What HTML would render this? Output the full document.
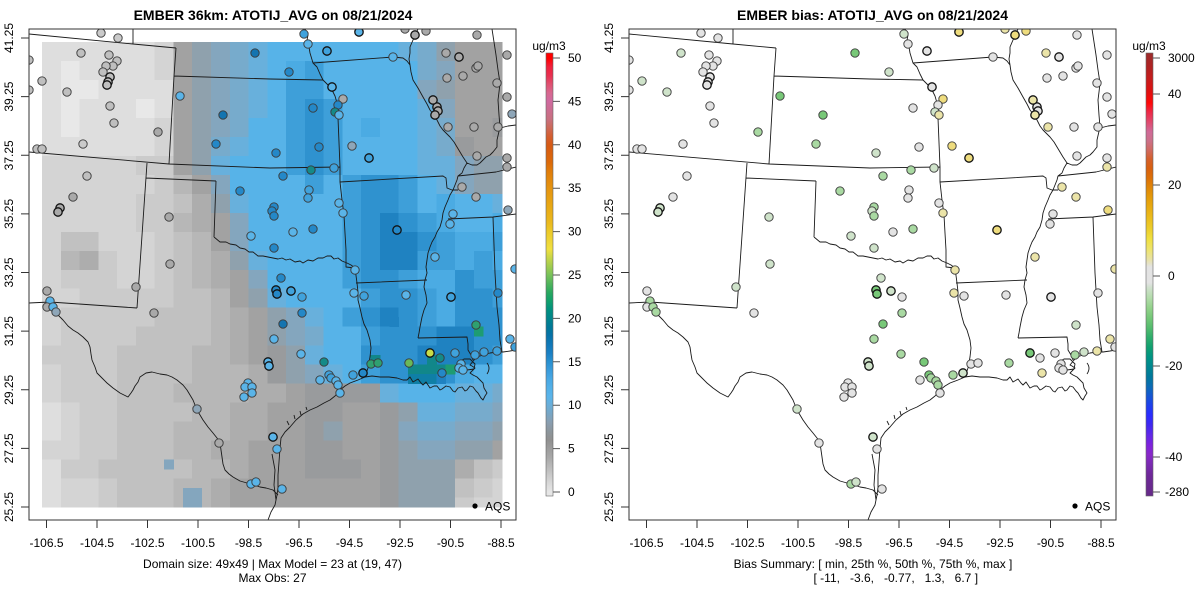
<!DOCTYPE html>
<html><head><meta charset="utf-8">
<style>
html,body{margin:0;padding:0;background:#fff;}
svg{display:block;}
text{font-family:"Liberation Sans",Arial,sans-serif;font-size:12px;fill:#000;}
.t{font-weight:bold;font-size:14px;}
</style></head><body>
<svg id="s" width="1200" height="600" viewBox="0 0 1200 600" xmlns="http://www.w3.org/2000/svg">
<defs>
<clipPath id="cp"><rect x="29" y="29" width="487" height="491"/></clipPath>
<linearGradient id="gl" x1="0" y1="0" x2="0" y2="1">
<stop offset="0" stop-color="#ff0000"/><stop offset="0.012" stop-color="#ff0000"/><stop offset="0.031" stop-color="#f0203c"/><stop offset="0.051" stop-color="#e83050"/><stop offset="0.07" stop-color="#e05070"/><stop offset="0.09" stop-color="#d86890"/><stop offset="0.109" stop-color="#d06aa0"/><stop offset="0.149" stop-color="#c87080"/><stop offset="0.168" stop-color="#cc6a5a"/><stop offset="0.188" stop-color="#d45e30"/><stop offset="0.208" stop-color="#d65a14"/><stop offset="0.247" stop-color="#dc6a0a"/><stop offset="0.266" stop-color="#e07c0a"/><stop offset="0.305" stop-color="#e59410"/><stop offset="0.345" stop-color="#e8a814"/><stop offset="0.384" stop-color="#ebba1e"/><stop offset="0.403" stop-color="#ecca28"/><stop offset="0.423" stop-color="#eed436"/><stop offset="0.443" stop-color="#f0e040"/><stop offset="0.462" stop-color="#c8d648"/><stop offset="0.482" stop-color="#a0cc50"/><stop offset="0.501" stop-color="#78c25a"/><stop offset="0.521" stop-color="#50b45c"/><stop offset="0.541" stop-color="#28a860"/><stop offset="0.56" stop-color="#10a06c"/><stop offset="0.58" stop-color="#009080"/><stop offset="0.6" stop-color="#00848c"/><stop offset="0.619" stop-color="#007898"/><stop offset="0.638" stop-color="#0672a8"/><stop offset="0.658" stop-color="#1078b8"/><stop offset="0.678" stop-color="#1a80c4"/><stop offset="0.697" stop-color="#2890d0"/><stop offset="0.717" stop-color="#3a9cdc"/><stop offset="0.736" stop-color="#48a8e4"/><stop offset="0.756" stop-color="#52b0e8"/><stop offset="0.776" stop-color="#5ab4ea"/><stop offset="0.795" stop-color="#6aaed8"/><stop offset="0.815" stop-color="#78a6c4"/><stop offset="0.834" stop-color="#8a9eb0"/><stop offset="0.854" stop-color="#8c969c"/><stop offset="0.873" stop-color="#909090"/><stop offset="0.893" stop-color="#9c9c9c"/><stop offset="0.913" stop-color="#a8a8a8"/><stop offset="0.932" stop-color="#b8b8b8"/><stop offset="0.952" stop-color="#c8c8c8"/><stop offset="0.971" stop-color="#d8d8d8"/><stop offset="0.991" stop-color="#e6e6e6"/><stop offset="1" stop-color="#e6e6e6"/>
</linearGradient>
<linearGradient id="gr" x1="0" y1="0" x2="0" y2="1">
<stop offset="0" stop-color="#9b2c2c"/><stop offset="0.032" stop-color="#b02222"/><stop offset="0.061" stop-color="#c81c1c"/><stop offset="0.088" stop-color="#e01010"/><stop offset="0.113" stop-color="#ff0808"/><stop offset="0.133" stop-color="#ee2846"/><stop offset="0.156" stop-color="#e04a6e"/><stop offset="0.178" stop-color="#d06a98"/><stop offset="0.199" stop-color="#cc7088"/><stop offset="0.219" stop-color="#d06a60"/><stop offset="0.239" stop-color="#d4602c"/><stop offset="0.26" stop-color="#d86010"/><stop offset="0.282" stop-color="#dc7008"/><stop offset="0.305" stop-color="#e08808"/><stop offset="0.327" stop-color="#e49c0a"/><stop offset="0.35" stop-color="#e8ac12"/><stop offset="0.372" stop-color="#ebbc1c"/><stop offset="0.395" stop-color="#eccc2a"/><stop offset="0.42" stop-color="#f0e040"/><stop offset="0.445" stop-color="#eee470"/><stop offset="0.467" stop-color="#e8e2a8"/><stop offset="0.483" stop-color="#e3e3e3"/><stop offset="0.519" stop-color="#e3e3e3"/><stop offset="0.53" stop-color="#cfe0cc"/><stop offset="0.553" stop-color="#b2dcaa"/><stop offset="0.576" stop-color="#92d28a"/><stop offset="0.598" stop-color="#74c878"/><stop offset="0.619" stop-color="#56bc6e"/><stop offset="0.641" stop-color="#30ae6c"/><stop offset="0.664" stop-color="#10a070"/><stop offset="0.686" stop-color="#009484"/><stop offset="0.709" stop-color="#008690"/><stop offset="0.731" stop-color="#00789c"/><stop offset="0.752" stop-color="#0a6cb4"/><stop offset="0.772" stop-color="#1458d0"/><stop offset="0.795" stop-color="#1e40ec"/><stop offset="0.817" stop-color="#2a2cff"/><stop offset="0.84" stop-color="#4028f0"/><stop offset="0.862" stop-color="#6028e8"/><stop offset="0.885" stop-color="#7e22dc"/><stop offset="0.907" stop-color="#8828c8"/><stop offset="0.93" stop-color="#7a2ab0"/><stop offset="0.953" stop-color="#6e2898"/><stop offset="1" stop-color="#662a88"/>
</linearGradient>
<path id="ml" fill="none" stroke="#1a1a1a" stroke-width="0.9" stroke-linejoin="round" d="M29,34L133,44L176,48 M133,29L133,44 M176,48L174,76L169,164 M174,76L270,79L323,80 M29,152L169,164L270,168L340,167 M147,163L137,308 M146,178L216,181 M216,181L214,237 M214,237L220,242L226,242L230,244L236,245L240,248L245,249L249,252L253,252L258,256L263,256L268,257L273,258L278,259L282,258L286,260L290,259L295,262L300,261L303,263L308,260L313,261L318,258L323,258L327,256L331,256L334,259L338,258L342,261L347,263L351,265L355,268 M29,303L50,302L137,308 M47,305L53,310L58,315L63,320L68,326L73,330L78,333L83,337L88,342L90,347L91,354L92,360L95,367L97,373L102,378L107,383L113,388L120,393L124,395L128,397L131,393L133,390L135,386L138,382L140,377L146,373L152,372L160,374L167,375L172,377L177,380L183,385L187,390L190,395L193,400L195,405L197,410L200,415L203,420L208,427L213,433L217,438L220,443L221,450L222,457L223,464L225,470L229,474L233,477L240,481L247,483L254,485L260,487L266,488L273,490L278,495 M268,520L271,512L275,505L277,495L278,487L278,475L279,462L280,448L281,438L285,432L290,427L296,420L303,414L310,410L317,407L324,403L330,400L335,396L340,390L345,386L350,383L358,380L365,377L372,376L380,377L389,377L397,378L403,380L407,380L410,377L413,382L418,379L421,383L423,385L426,382L430,388L434,386L437,386L440,390L442,389L446,386L450,387L453,391L455,392L458,388L462,387L465,391L467,390L470,386L473,387L476,391L478,393L481,398L483,400L485,396L487,393L484,388L483,383L480,380L477,377L473,375L470,373L473,370L475,368L472,366L470,365L474,360L477,357L483,355L490,353L497,352L503,352L510,351L516,350 M272,454L275,470L274,485L276,500 M289,425L287,421 M295,419L294,415 M301,415L300,411 M307,410L306,407 M305,29L308,35L307,40L309,47L310,53L313,63L317,67L320,74L323,80L328,85L332,90L335,96L337,103L338,110L338,118L340,167L340,182L342,200L344,215L345,233L346,250L346,267L355,268 M313,63L393,57L403,58L407,61L410,65 M340,182L443,176L446,178L447,188L452,190L458,190 M418,29L415,35L413,40L410,47L410,53L409,59L410,65L411,72L413,80L418,88L423,97L427,104L430,110L434,115L437,120L440,126L443,130L450,137L454,142L457,147L460,152L463,157L467,163L464,168L462,173L458,176L457,180L455,185L453,190L450,195L448,200L445,207L443,213L442,220L440,227L437,232L435,237L432,242L430,247L428,253L427,260L426,267L427,273L425,280L424,287L426,295L427,303L424,310L422,317L421,322L420,327L419,333L418,338 M356,283L427,280 M355,268L357,283L358,292L358,300L360,308L362,317L364,324L367,330L370,340L371,348L370,357L368,368L365,377 M418,338L467,337L468,344L468,350L471,355L473,360 M448,219L493,217L516,214 M493,217L494,245L495,273L496,290L497,307L499,325L500,340L502,352 M458,176L496,172L516,167 M492,29L494,42L496,55L498,70L500,83L499,92L498,100L499,115L500,127L497,140L497,147L493,152L490,155L486,157L483,160L480,163L477,165L472,165L467,163 M500,128L508,126L516,125 M457,363L464,359L470,359L475,364L474,369L467,370L460,369L457,365 M487,363Q491,368 487,374"/>
</defs>
<rect width="1200" height="600" fill="#fff"/>

<!-- LEFT PANEL -->
<g clip-path="url(#cp)">
  <g id="rast" shape-rendering="crispEdges"></g>
  <use href="#ml"/>
  <g id="stL"></g>
</g>
<rect x="29" y="29" width="487" height="491" fill="none" stroke="#333" stroke-width="1"/>
<circle cx="475" cy="506" r="2.6" fill="#000"/>
<text x="485" y="510.5">AQS</text>
<text class="t" x="273" y="20" text-anchor="middle">EMBER 36km: ATOTIJ_AVG on 08/21/2024</text>
<path d="M21,38H29M21,96.6H29M21,155.3H29M21,213.9H29M21,272.5H29M21,331.1H29M21,389.8H29M21,448.4H29M21,507H29 M46.5,520V528M97,520V528M147.5,520V528M198,520V528M248.5,520V528M299,520V528M349.5,520V528M400,520V528M450.5,520V528M501,520V528" stroke="#333" stroke-width="1" fill="none"/>
<g text-anchor="middle">
<text transform="translate(13,38) rotate(-90)">41.25</text>
<text transform="translate(13,96.6) rotate(-90)">39.25</text>
<text transform="translate(13,155.3) rotate(-90)">37.25</text>
<text transform="translate(13,213.9) rotate(-90)">35.25</text>
<text transform="translate(13,272.5) rotate(-90)">33.25</text>
<text transform="translate(13,331.1) rotate(-90)">31.25</text>
<text transform="translate(13,389.8) rotate(-90)">29.25</text>
<text transform="translate(13,448.4) rotate(-90)">27.25</text>
<text transform="translate(13,507) rotate(-90)">25.25</text>
<text x="46.5" y="547">-106.5</text>
<text x="97" y="547">-104.5</text>
<text x="147.5" y="547">-102.5</text>
<text x="198" y="547">-100.5</text>
<text x="248.5" y="547">-98.5</text>
<text x="299" y="547">-96.5</text>
<text x="349.5" y="547">-94.5</text>
<text x="400" y="547">-92.5</text>
<text x="450.5" y="547">-90.5</text>
<text x="501" y="547">-88.5</text>
<text x="272.5" y="568">Domain size: 49x49 | Max Model = 23 at (19, 47)</text>
<text x="272.5" y="582">Max Obs: 27</text>
<text x="549" y="50">ug/m3</text>
</g>
<rect x="546" y="53" width="7" height="443" fill="url(#gl)" stroke="#666" stroke-width="0.6"/>
<path d="M553,58H560M553,101.4H560M553,144.8H560M553,188.2H560M553,231.6H560M553,275H560M553,318.4H560M553,361.8H560M553,405.2H560M553,448.6H560M553,492H560" stroke="#555" stroke-width="1"/>
<text x="568" y="62">50</text>
<text x="568" y="105.4">45</text>
<text x="568" y="148.8">40</text>
<text x="568" y="192.2">35</text>
<text x="568" y="235.6">30</text>
<text x="568" y="279">25</text>
<text x="568" y="322.4">20</text>
<text x="568" y="365.8">15</text>
<text x="568" y="409.2">10</text>
<text x="568" y="452.6">5</text>
<text x="568" y="496">0</text>

<!-- RIGHT PANEL -->
<g transform="translate(600,0)">
  <g clip-path="url(#cp)">
    <use href="#ml"/>
    <g id="stR"></g>
  </g>
  <rect x="29" y="29" width="487" height="491" fill="none" stroke="#333" stroke-width="1"/>
  <circle cx="475" cy="506" r="2.6" fill="#000"/>
  <text x="485" y="510.5">AQS</text>
  <path d="M21,38H29M21,96.6H29M21,155.3H29M21,213.9H29M21,272.5H29M21,331.1H29M21,389.8H29M21,448.4H29M21,507H29 M46.5,520V528M97,520V528M147.5,520V528M198,520V528M248.5,520V528M299,520V528M349.5,520V528M400,520V528M450.5,520V528M501,520V528" stroke="#333" stroke-width="1" fill="none"/>
</g>
<text class="t" x="872.5" y="20" text-anchor="middle">EMBER bias: ATOTIJ_AVG on 08/21/2024</text>
<g text-anchor="middle">
<text transform="translate(613,38) rotate(-90)">41.25</text>
<text transform="translate(613,96.6) rotate(-90)">39.25</text>
<text transform="translate(613,155.3) rotate(-90)">37.25</text>
<text transform="translate(613,213.9) rotate(-90)">35.25</text>
<text transform="translate(613,272.5) rotate(-90)">33.25</text>
<text transform="translate(613,331.1) rotate(-90)">31.25</text>
<text transform="translate(613,389.8) rotate(-90)">29.25</text>
<text transform="translate(613,448.4) rotate(-90)">27.25</text>
<text transform="translate(613,507) rotate(-90)">25.25</text>
<text x="646.5" y="547">-106.5</text>
<text x="697" y="547">-104.5</text>
<text x="747.5" y="547">-102.5</text>
<text x="798" y="547">-100.5</text>
<text x="848.5" y="547">-98.5</text>
<text x="899" y="547">-96.5</text>
<text x="949.5" y="547">-94.5</text>
<text x="1000" y="547">-92.5</text>
<text x="1050.5" y="547">-90.5</text>
<text x="1101" y="547">-88.5</text>
<text x="873" y="568">Bias Summary: [ min, 25th %, 50th %, 75th %, max ]</text>
<text x="1149" y="50">ug/m3</text>
</g>
<text x="813.5" y="582" style="white-space:pre">[ -11,   -3.6,   -0.77,   1.3,   6.7 ]</text>
<rect x="1146" y="53" width="7" height="443" fill="url(#gr)" stroke="#666" stroke-width="0.6"/>
<path d="M1153,58H1160M1153,94H1160M1153,185H1160M1153,276H1160M1153,366H1160M1153,457H1160M1153,492H1160" stroke="#555" stroke-width="1"/>
<text x="1168" y="62">3000</text>
<text x="1168" y="98">40</text>
<text x="1168" y="189">20</text>
<text x="1168" y="280">0</text>
<text x="1165" y="370">-20</text>
<text x="1165" y="461">-40</text>
<text x="1165" y="496">-280</text>
</svg>
<script>
(function(){
var NS='http://www.w3.org/2000/svg';
function el(t,a,p){var e=document.createElementNS(NS,t);for(var k in a)e.setAttribute(k,a[k]);p.appendChild(e);return e;}
var pal={a:'#e8e8e8',b:'#dedede',c:'#d4d4d4',d:'#cbcbcb',e:'#c1c1c1',f:'#b7b7b7',g:'#adadad',h:'#a2a2a2',i:'#999b9d',j:'#8fa1ad',k:'#84a6be',l:'#77abcc',m:'#68b0dc',n:'#57b3e8',o:'#4babe3',p:'#3e9fd9',q:'#2f92cf',r:'#1f82c1',s:'#11878a',t:'#1e9c72',u:'#0f7fa6'};
var rows=[
"bbbbbbchjklmnnnnnnnmljhhh",
"babbbbchjklmnopnnnnnlkhhh",
"baabbbbhjklmnppnnnnnkjhhh",
"babbbabhjklmnpqpnnnnmkhhh",
"babbbbchjklnnpqpnonnmlhhi",
"bbbbbbchjlmnnpqpnnnnmlihh",
"cccccddhjmnnnpqpnnnnmmkjj",
"ccccccdfhknnnnpnpqqpnmkjj",
"cccccddegjmnnnnnpqqpnonnm",
"cccccddfghknnnnnpqrqponno",
"ceecccdefhknnnnnpqrrqpoop",
"cfgdccdefgjmnnnnpqrrppopo",
"cdddccdefghknnnnpqqpooqpp",
"ccdddddeefhjmnnnnpqqpoqqp",
"cdddddeeefghjkmnpqrqpoqqq",
"cddddeeeefghjklnnpqqqrrqq",
"ddddeeeeffghijmnnqqqrrrqp",
"cdddeeeefffgijkmnpqqrqonn",
"cdddeeeffffgghiiiimnnnmml",
"bcddeeeeffgghhiihhijmmllk",
"bcddeeefffgghhijhhikllkkj",
"ccddeeeffgghhhiihhijkkjjh",
"bddeeeeeffghhhiiihijjjged",
"bccdeeeffghhhhhhhhijjjedc",
"bccdeeeffghhhhhhhhijjjdcc"];
var cw=460/49,ch=465/49,rg=document.getElementById('rast');
for(var R=0;R<25;R++){for(var C=0;C<25;C++){
 var x=42+C*2*cw,y=42+R*2*ch,w=(C==24?cw:2*cw),h=(R==24?ch:2*ch);
 el('rect',{x:x.toFixed(2),y:y.toFixed(2),width:(w+0.5).toFixed(2),height:(h+0.5).toFixed(2),fill:pal[rows[R].charAt(C)]||'#ccc'},rg);
}}
var ov=[[15,47,'k'],[16,47,'k'],[15,48,'k'],[16,48,'k'],[13,44,'k'],
[46,30,'t'],[41,33,'s'],[39,34,'s'],[40,34,'s'],[41,34,'s'],[42,34,'s'],[43,34,'t'],[35,33,'s'],
[39,35,'u'],[40,35,'u'],[41,35,'u'],[42,35,'r'],[37,29,'r'],[38,20,'r'],[36,21,'r']];
for(var i=0;i<ov.length;i++){var o=ov[i];el('rect',{x:(42+o[0]*cw).toFixed(2),y:(42+o[1]*ch).toFixed(2),width:(cw+0.5).toFixed(2),height:(ch+0.5).toFixed(2),fill:pal[o[2]]},rg);}
var LC={W1:'#cacaca',W2:'#bfbfbf',W3:'#a9a9a9',GB:'#8ea6b8',B1:'#5ab4e8',B2:'#40a2dc',B3:'#2488c8',B4:'#1474b0',T:'#148a88',GR:'#2fa070',G6:'#6ab858',YG:'#c8dc48'};
var RC={G:'#e3e3e3',L:'#cfe3ca',M:'#a9d9a2',N:'#78c878',Y:'#ebe4a8',YY:'#eedc7e'};
var st=[[101,33,'W1','G'],[118,38,'W1','G'],[81,53,'W2','L'],[109,55,'W2','G'],[117,61,'W2','G'],[113,66,'W2','G'],[106,66,'W2','G'],[103,72,'W2','G'],[110,77,'W2','G',1],[108,82,'W2','G',1],[107,85,'W2','G',1],[42,81,'W2','L'],[29,60,'W2','G'],[29,90,'W2','G'],[67,92,'W2','L'],[110,106,'W2','G'],[114,123,'W2','G'],[158,132,'W3','M'],[83,144,'W1','G'],[37,149,'W2','G'],[42,149,'W2','G'],[87,176,'W2','G'],[73,197,'W3','G'],[60,208,'W3','L',1],[58,212,'W3','L',1],[169,217,'W3','L'],[170,264,'W3','L'],[136,287,'W3','L'],[47,291,'W3','G'],[50,301,'B1','M'],[47,307,'W3','G'],[53,307,'B1','M'],[56,312,'GB','M'],[154,313,'W3','G'],
[180,96,'B1','N'],[223,115,'B4','N'],[216,144,'B3','M'],[255,53,'B4','N'],[289,72,'B3','L'],[304,34,'B2','L'],[308,44,'B1','G'],[327,51,'B2','G',1],[393,57,'B1','G'],[332,87,'B1','G',1],[343,99,'W3','YY'],[338,105,'B3','G'],[335,112,'T','L'],[339,115,'B1','Y'],[313,108,'B3','G'],[276,153,'B3','L'],[319,147,'B3','G'],[352,146,'GB','YY'],[369,158,'B2','YY',1],[283,176,'B3','M'],[311,170,'T','M'],[334,168,'B2','L'],[240,191,'B3','M'],[309,190,'B2','G'],[308,198,'B2','G'],[339,203,'B1','G'],[343,213,'B1','Y'],[274,207,'B3','M'],[272,211,'B3','L'],[274,216,'B3','M'],[251,236,'B1','L'],[293,232,'B1','G'],[313,229,'B3','M'],[397,230,'B3','YY',1],[274,248,'B3','L'],[355,270,'B1','Y'],[281,278,'B3','L'],[276,290,'B3','N',1],[277,294,'B3','N',1],[291,291,'B2','L',1],[302,297,'B2','G'],[354,293,'B1','Y'],[364,296,'B2','G'],[406,295,'B1','G'],[451,297,'B2','G',1],[435,257,'B1','Y'],[453,214,'B1','G'],[450,224,'B1','G'],[462,187,'W3','Y'],[476,197,'W3','Y'],[508,210,'GB','YY'],[515,269,'B1','Y'],[498,293,'B3','G'],[507,167,'W3','Y'],[507,158,'W3','G'],[477,156,'W3','G'],[474,127,'W3','G'],[498,127,'W3','G'],[448,127,'W3','Y'],[437,107,'W3','G',1],[433,100,'W3','Y',1],[438,111,'W3','G',1],[435,115,'W3','Y',1],[512,114,'GB','G'],[507,97,'W3','G'],[497,83,'W3','G'],[447,78,'W3','G'],[463,76,'W3','G'],[476,68,'W3','G'],[478,66,'W3','G'],[446,53,'W3','Y'],[459,57,'W3','G',1],[507,55,'W3','G'],[477,35,'W3','G'],[405,29,'W3','Y'],[415,35,'W3','YY',1],[426,31,'W3','YY'],[359,32,'B1','YY',1],
[302,313,'B3','M'],[283,324,'B4','N'],[274,339,'B1','M'],[301,354,'B1','M'],[268,362,'B1','L',1],[269,366,'B1','L',1],[324,362,'T','N'],[248,383,'B1','G'],[245,387,'B1','G'],[252,387,'B1','G'],[252,393,'B1','G'],[244,397,'B1','G'],[320,380,'B1','G'],[329,375,'B2','N'],[331,378,'B2','M'],[336,381,'B1','M'],[338,385,'B1','M'],[340,393,'B1','G'],[353,375,'B2','M'],[363,373,'B3','L',1],[371,364,'GR','G'],[378,363,'GR','G'],[409,363,'G6','M'],[430,353,'YG','N',1],[440,358,'T','G'],[442,373,'B3','Y'],[455,353,'B2','G'],[461,364,'B1','G'],[459,368,'B1','G'],[463,370,'B1','G'],[475,355,'B2','M'],[484,352,'B2','L'],[497,351,'B2','Y'],[510,339,'B1','Y'],[515,347,'B2','G'],[476,325,'GR','L'],[197,409,'GB','L'],[219,443,'W3','G'],[273,437,'B1','L',1],[277,449,'B1','G'],[251,484,'B1','M'],[256,482,'B1','L'],[282,489,'B1','G']];
var gL=document.getElementById('stL'),gR=document.getElementById('stR');
for(var j=0;j<st.length;j++){var s=st[j];var b=s[4]?1:0;
 el('circle',{cx:s[0],cy:s[1],r:4.2,fill:LC[s[2]],stroke:b?'#111':'#3a3a3a','stroke-width':b?1.3:0.9},gL);
 el('circle',{cx:s[0],cy:s[1],r:4.2,fill:RC[s[3]],stroke:b?'#111':'#3a3a3a','stroke-width':b?1.3:0.9},gR);
}
})();
</script>
</body></html>
